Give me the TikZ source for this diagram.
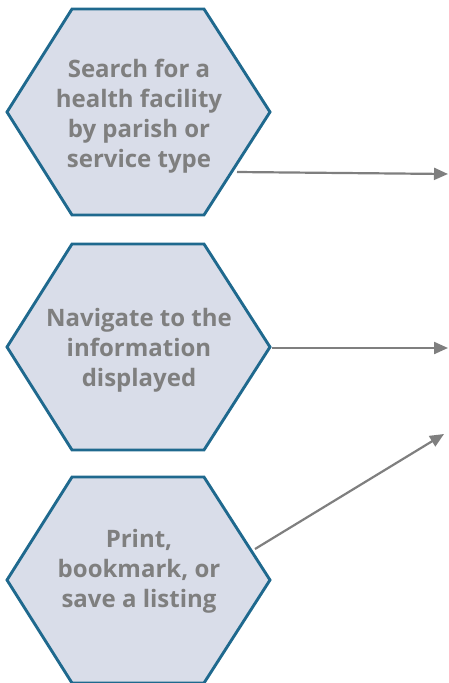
\documentclass[tikz,border=0pt]{standalone}
\usepackage{fontspec}
\setmainfont{Open Sans}
\usepackage{xcolor}
\usetikzlibrary{arrows.meta}

\definecolor{hexfill}{HTML}{D9DDE9}
\definecolor{hexline}{HTML}{1F698E}
\definecolor{textgrey}{HTML}{7F7F7F}

\begin{document}
\begin{tikzpicture}[x=1pt,y=-1pt]
		\tikzset{
			hexagon/.style={draw=hexline, fill=hexfill, line width=2.9pt, line join=miter},
			steptext/.style={text=textgrey, font=\bfseries\fontsize{24}{30}\selectfont, align=center, inner sep=0pt},
			link/.style={draw=textgrey, line width=2.2pt, -{Triangle[length=14pt,width=12pt]}}
		}
		\useasboundingbox (0,0) rectangle (448,683);
		% search
		\draw [hexagon] (7,112) -- (72,9) -- (204,9) -- (270,112) -- (204,215) -- (72,215) -- cycle;
		\node [steptext] (search) at (139,116) {Search for a\\health facility\\by parish or\\service type};
		\coordinate (search-out) at (237,172);
		\coordinate (search-end) at (448,174);
		% navigate
		\draw [hexagon] (7,347) -- (72,244) -- (204,244) -- (270,347) -- (204,450) -- (72,450) -- cycle;
		\node [steptext] (navigate) at (139,350) {Navigate to the\\information\\displayed};
		\coordinate (navigate-out) at (272,348);
		\coordinate (navigate-end) at (448,348);
		% print
		\draw [hexagon] (7,580) -- (72,477) -- (204,477) -- (270,580) -- (204,683) -- (72,683) -- cycle;
		\node [steptext] (print) at (139,571) {Print,\\bookmark, or\\save a listing};
		\coordinate (print-out) at (255,549);
		\coordinate (print-end) at (444,434);
		% arrows
		\draw [link] (search-out) -- (search-end);
		\draw [link] (navigate-out) -- (navigate-end);
		\draw [link] (print-out) -- (print-end);
	\end{tikzpicture}
\end{document}
